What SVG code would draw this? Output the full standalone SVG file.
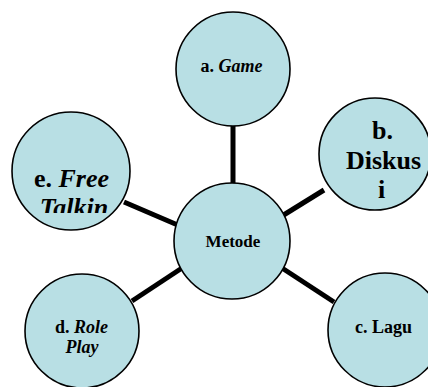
<svg xmlns="http://www.w3.org/2000/svg" width="428" height="387" viewBox="0 0 428 387">
<style>
.n{fill:#b8dfe4;stroke:#000;stroke-width:1.6}
.c{stroke:#000;stroke-width:5;fill:none}
text{font-family:'Liberation Serif','Times New Roman',serif;font-weight:bold;text-anchor:middle;fill:#000}
.s{font-size:18px}
.l{font-size:26px}
.i{font-style:italic}
</style>
<defs>
<clipPath id="clipE"><rect x="0" y="100" width="140" height="113"/></clipPath>
</defs>
<rect width="428" height="387" fill="#fff"/>
<g id="connectors">
<line class="c" x1="233" y1="125" x2="233" y2="184"/>
<line class="c" x1="124" y1="202" x2="180" y2="226"/>
<line class="c" x1="282" y1="216" x2="324" y2="190"/>
<line class="c" x1="132" y1="301" x2="182" y2="268"/>
<line class="c" x1="282" y1="268" x2="334" y2="302"/>
</g>
<g id="metode">
<circle class="n" cx="232" cy="241" r="58"/>
<text class="s" x="233" y="247" style="font-size:17px">Metode</text>
</g>
<g id="game">
<circle class="n" cx="233" cy="69" r="57"/>
<text class="s" x="231.5" y="72">a. <tspan class="i">Game</tspan></text>
</g>
<g id="diskusi">
<circle class="n" cx="375" cy="154" r="56"/>
<text class="l" x="382.5" y="139">b.</text>
<text class="l" x="383.5" y="169">Diskus</text>
<text class="l" x="381.5" y="198">i</text>
</g>
<g id="free">
<circle class="n" cx="71" cy="171" r="59"/>
<g clip-path="url(#clipE)">
<text class="l" x="71.5" y="187">e. <tspan class="i">Free</tspan></text>
<text class="l i" x="74" y="216">Talkin</text>
</g>
</g>
<g id="role">
<circle class="n" cx="82" cy="331" r="57"/>
<text class="s" x="81.5" y="333">d. <tspan class="i">Role</tspan></text>
<text class="s i" x="82" y="353">Play</text>
</g>
<g id="lagu">
<circle class="n" cx="385" cy="330" r="57"/>
<text class="s" x="383.5" y="333">c. Lagu</text>
</g>
</svg>
